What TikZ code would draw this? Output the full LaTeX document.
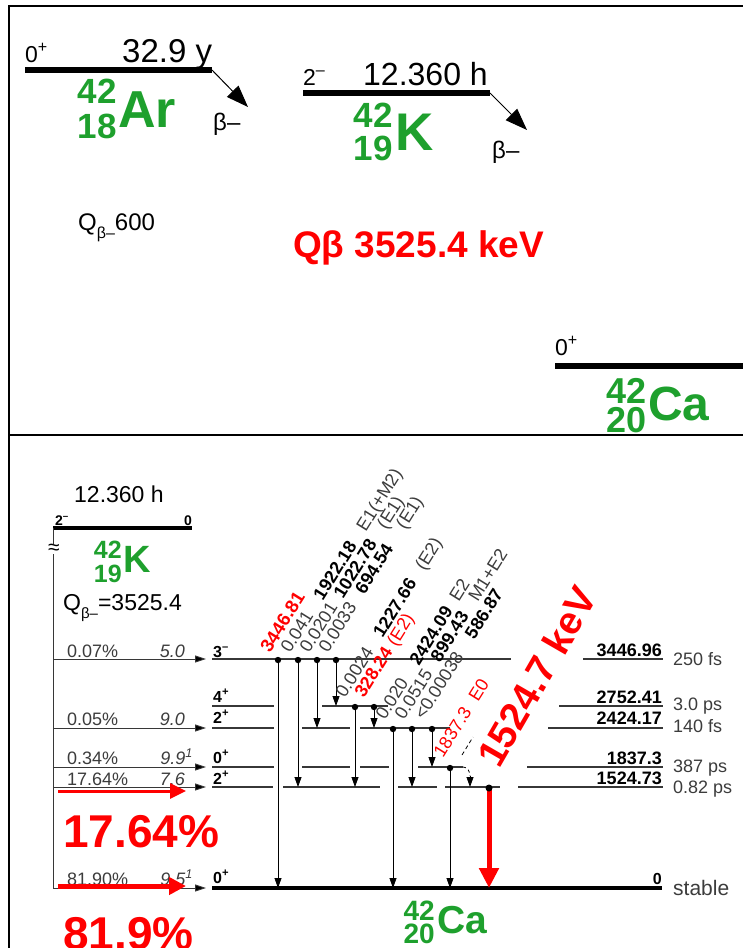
\documentclass[tikz,border=0pt]{standalone}
\usepackage{fontspec}
\setmainfont{Liberation Sans}
\usetikzlibrary{arrows.meta}
\definecolor{nucgreen}{RGB}{30,160,45}
\definecolor{lvlc}{RGB}{55,55,55}
\definecolor{txg}{RGB}{60,60,60}
\newcommand{\fsz}[1]{\fontsize{#1}{#1}\selectfont}
\begin{document}
\begin{tikzpicture}[x=1pt,y=-1pt,
  lvl/.style={draw=lvlc,line width=1.1pt},
  gam/.style={draw=black,line width=0.8pt,-{Triangle[length=10pt,width=7pt]}},
  feed/.style={draw=lvlc,line width=0.9pt,-{Triangle[length=11pt,width=7pt,fill=black]}},
  glab/.style={rotate=58,anchor=base west,inner sep=0pt,font=\fsz{18}},
  txt/.style={inner sep=0pt,anchor=base west},
  txe/.style={inner sep=0pt,anchor=base east},
  nuc/.style={inner sep=0pt,text=nucgreen},
  redarrow/.style={draw=red,-{Triangle[length=17pt,width=17pt]}}]
\useasboundingbox (0,0) rectangle (743,948);
\fill[white] (0,0) rectangle (743,948);
% frame
\coordinate (f1) at (743,6); \coordinate (f2) at (9,6); \coordinate (f3) at (9,948);
\coordinate (d1) at (9,435); \coordinate (d2) at (743,435);
\draw[line width=2pt] (f1) -- (f2) -- (f3);
\draw[line width=2pt] (d1) -- (d2);

% ===== top panel =====
% Ar
\node[txt,font=\fsz{23}] (ar0) at (25,62) {0\textsuperscript{+}};
\node[txt,font=\fsz{33}] (arT) at (122,62) {32.9 y};
\coordinate (arL) at (25,70); \coordinate (arR) at (212,70); \coordinate (arB) at (248,107);
\draw[line width=5.5pt] (arL) -- (arR);
\draw[line width=1pt,-{Triangle[length=22pt,width=16pt]}] (arR) -- (arB);
\node[txt,font=\fsz{24}] (arb) at (213,130) {β–};
\node[txe,nuc,font=\fsz{35}\bfseries] (arA) at (117,103) {42};
\node[txe,nuc,font=\fsz{35}\bfseries] (arZ) at (117,138) {18};
\node[txt,nuc,font=\fsz{52}\bfseries] (arS) at (118,127) {Ar};
\node[txt,font=\fsz{24}] (qar) at (78,230) {Q\raisebox{-0.35em}{\fsz{16}β–}600};
% K
\node[txt,font=\fsz{23}] (k0) at (303,85) {2\textsuperscript{–}};
\node[txt,font=\fsz{32}] (kT) at (363,85) {12.360 h};
\coordinate (kL) at (303,93); \coordinate (kR) at (490,93); \coordinate (kB) at (527,130);
\draw[line width=5.5pt] (kL) -- (kR);
\draw[line width=1pt,-{Triangle[length=22pt,width=16pt]}] (kR) -- (kB);
\node[txt,font=\fsz{24}] (kb) at (492,158) {β–};
\node[txe,nuc,font=\fsz{35}\bfseries] (kA) at (393,127) {42};
\node[txe,nuc,font=\fsz{35}\bfseries] (kZ) at (393,160) {19};
\node[txt,nuc,font=\fsz{53}\bfseries] (kS) at (395,150) {K};
\node[txt,font=\fsz{37}\bfseries,text=red] (qtop) at (293,257) {Qβ 3525.4 keV};
% Ca
\node[txt,font=\fsz{23}] (ca0) at (555,355) {0\textsuperscript{+}};
\coordinate (caL) at (555,366); \coordinate (caR) at (743,366);
\draw[line width=5.5pt] (caL) -- (caR);
\node[txe,nuc,font=\fsz{36}\bfseries] (caA) at (647,403) {42};
\node[txe,nuc,font=\fsz{36}\bfseries] (caZ) at (647,432) {20};
\node[txt,nuc,font=\fsz{48}\bfseries] (caS) at (648,420) {Ca};

% ===== bottom panel =====
\node[txt,font=\fsz{23}] (kbT) at (74,502) {12.360 h};
\coordinate (pL) at (53,528); \coordinate (pR) at (192,528); \coordinate (pD) at (53,888);
\draw[line width=4pt] (pL) -- (pR);
\draw[draw=lvlc,line width=0.9pt] (pL) -- (pD);
\node[txt,font=\fsz{14}\bfseries] (ps) at (55,525) {2\textsuperscript{–}};
\node[txe,font=\fsz{14}\bfseries] (pe) at (192,525) {0};
\node[fill=white,inner sep=0.3pt,font=\fsz{21}] (brk) at (54,549) {≈};
\node[txe,nuc,font=\fsz{25}\bfseries] (pA) at (122,558) {42};
\node[txe,nuc,font=\fsz{25}\bfseries] (pZ) at (122,582) {19};
\node[txt,nuc,font=\fsz{38}\bfseries] (pS) at (123,572) {K};
\node[txt,font=\fsz{23}] (qb) at (63,610) {Q\raisebox{-0.35em}{\fsz{15}β–}=3525.4};

% levels
\draw[lvl] (212,659) -- (511,659);  \draw[lvl] (583,659) -- (663,659);
\draw[lvl] (212,706) -- (274,706);  \draw[lvl] (322,706) -- (388,706);  \draw[lvl] (559,706) -- (663,706);
\draw[lvl] (212,728) -- (274,728);  \draw[lvl] (302,728) -- (350,728);  \draw[lvl] (360,728) -- (450,728);  \draw[lvl] (548,728) -- (663,728);
\draw[lvl] (212,767) -- (274,767);  \draw[lvl] (302,767) -- (350,767);  \draw[lvl] (360,767) -- (389,767);  \draw[lvl] (418,767) -- (463,767);  \draw[lvl] (527,767) -- (663,767);
\draw[lvl] (212,787) -- (273,787);  \draw[lvl] (283,787) -- (380,787);  \draw[lvl] (398,787) -- (437,787);  \draw[lvl] (445,787) -- (500,787);  \draw[lvl] (518,787) -- (663,787);
\coordinate (gL) at (212,888); \coordinate (gR) at (662,888);
\draw[line width=4.5pt] (gL) -- (gR);

% spins
\node[txt,font=\fsz{16}\bfseries] (s1) at (213,657) {3\textsuperscript{–}};
\node[txt,font=\fsz{16}\bfseries] (s2) at (213,702) {4\textsuperscript{+}};
\node[txt,font=\fsz{16}\bfseries] (s3) at (213,723) {2\textsuperscript{+}};
\node[txt,font=\fsz{16}\bfseries] (s4) at (213,763) {0\textsuperscript{+}};
\node[txt,font=\fsz{16}\bfseries] (s5) at (213,784) {2\textsuperscript{+}};
\node[txt,font=\fsz{16}\bfseries] (s6) at (213,883) {0\textsuperscript{+}};

% feeding
\foreach \y/\n in {659/a,728/b,767/c,787/d,888/e}{
  \coordinate (fs\n) at (53,\y); \coordinate (fe\n) at (206,\y);
  \draw[feed] (fs\n) -- (fe\n);
}
\node[txt,font=\fsz{18},text=txg] (b1) at (67,657) {0.07\%};
\node[txe,font=\fsz{18}\itshape,text=txg] (l1) at (185,657) {5.0};
\node[txt,font=\fsz{18},text=txg] (b2) at (67,725) {0.05\%};
\node[txe,font=\fsz{18}\itshape,text=txg] (l2) at (185,725) {9.0};
\node[txt,font=\fsz{18},text=txg] (b3) at (67,764) {0.34\%};
\node[txe,font=\fsz{18}\itshape,text=txg] (l3) at (193,764) {9.9\textsuperscript{1}};
\node[txt,font=\fsz{18},text=txg] (b4) at (67,785) {17.64\%};
\node[txe,font=\fsz{18}\itshape,text=txg] (l4) at (185,785) {7.6};
\node[txt,font=\fsz{18},text=txg] (b5) at (67,885) {81.90\%};
\node[txe,font=\fsz{18}\itshape,text=txg] (l5) at (193,885) {9.5\textsuperscript{1}};

% right labels
\node[txe,font=\fsz{18}\bfseries] (e1) at (662,656) {3446.96};
\node[txt,font=\fsz{18},text=txg] (h1) at (673,665) {250 fs};
\node[txe,font=\fsz{18}\bfseries] (e2) at (662,703) {2752.41};
\node[txt,font=\fsz{18},text=txg] (h2) at (673,710) {3.0 ps};
\node[txe,font=\fsz{18}\bfseries] (e3) at (662,724) {2424.17};
\node[txt,font=\fsz{18},text=txg] (h3) at (673,732) {140 fs};
\node[txe,font=\fsz{18}\bfseries] (e4) at (662,764) {1837.3};
\node[txt,font=\fsz{18},text=txg] (h4) at (673,772) {387 ps};
\node[txe,font=\fsz{18}\bfseries] (e5) at (662,784) {1524.73};
\node[txt,font=\fsz{18},text=txg] (h5) at (673,793) {0.82 ps};
\node[txe,font=\fsz{16}\bfseries] (e6) at (662,884) {0};
\node[txt,font=\fsz{21},text=txg] (h6) at (673,895) {stable};
\node[txe,nuc,font=\fsz{28}\bfseries] (gA) at (435,920) {42};
\node[txe,nuc,font=\fsz{28}\bfseries] (gZ) at (435,943) {20};
\node[txt,nuc,font=\fsz{39}\bfseries] (gS) at (437,933) {Ca};

% gamma transitions
\foreach \x/\a/\b [count=\i] in {278/659/888,298/659/787,317/659/728,336/659/706,355/706/787,374/706/728,393/728/888,412/728/787,432/728/767,450/767/888}{
  \coordinate (ts\i) at (\x,\a); \coordinate (te\i) at (\x,\b);
  \draw[gam] (ts\i) -- (te\i);
  \fill (\x,\a+1) circle (3.2pt);
}
% dashed 1837 -> 1524
\coordinate (dq1) at (463,767); \coordinate (dq2) at (470,776); \coordinate (dq3) at (470,787);
\draw[dashed,line width=0.8pt] (dq1) to[out=0,in=90] (dq2);
\draw[gam] (dq2) -- (dq3);
\coordinate (dd1) at (462,755); \coordinate (dd2) at (473,737);
\draw[line width=0.8pt,dash pattern=on 4pt off 3pt] (dd1) -- (dd2);

% gamma labels
\node[glab,text=red,font=\fsz{18.5}\bfseries] (gA1) at (270,654) {3446.81};
\node[glab] (gA2) at (290,654) {\makebox[62pt][l]{\color{txg}0.041}\makebox[81pt][l]{\textbf{1922.18}}\color{txg}E1(+M2)};
\node[glab] (gA3) at (309,654) {\makebox[64pt][l]{\color{txg}0.0201}\makebox[82pt][l]{\textbf{1022.78}}\color{txg}(E1)};
\node[glab] (gA4) at (328,654) {\makebox[69pt][l]{\color{txg}0.0033}\makebox[77pt][l]{\textbf{694.54}}\color{txg}(E1)};
\node[glab] (gB1) at (345,699) {\makebox[71pt][l]{\color{txg}0.0024}\makebox[79pt][l]{\textbf{1227.66}}\color{txg}(E2)};
\node[glab,text=red] (gB2) at (364,699) {\makebox[61pt][l]{\bfseries 328.24}(E2)};
\node[glab] (gC1) at (385,721) {\makebox[64pt][l]{\color{txg}0.020}\makebox[75pt][l]{\textbf{2424.09}}\color{txg}E2};
\node[glab] (gC2) at (404,721) {\makebox[68pt][l]{\color{txg}0.0515}\makebox[71pt][l]{\textbf{899.43}}\color{txg}M1+E2};
\node[glab] (gC3) at (424,721) {\makebox[95pt][l]{\color{txg}<0.00038}\textbf{586.87}};
\node[glab,text=red] (gD1) at (443,759) {\makebox[66pt][l]{1837.3}E0};

% red highlights
\coordinate (r1) at (489,789); \coordinate (r2) at (489,888);
\draw[redarrow,line width=5pt,-{Triangle[length=20pt,width=19pt]}] (r1) -- (r2);
\fill (489,788) circle (3.5pt);
\coordinate (ra1) at (58,791); \coordinate (ra2) at (186,791);
\draw[redarrow,line width=3pt,-{Triangle[length=16pt,width=15pt]}] (ra1) -- (ra2);
\coordinate (rb1) at (58,886); \coordinate (rb2) at (186,886);
\draw[redarrow,line width=5pt,-{Triangle[length=17pt,width=17pt]}] (rb1) -- (rb2);
\node[txt,font=\fsz{46}\bfseries,text=red] (p1) at (63,847) {17.64\%};
\node[txt,font=\fsz{46}\bfseries,text=red] (p2) at (63,949) {81.9\%};
\node[rotate=60,anchor=base west,inner sep=0pt,font=\fsz{39}\bfseries,text=red] (kev) at (499,770) {1524.7 keV};
\end{tikzpicture}
\end{document}
